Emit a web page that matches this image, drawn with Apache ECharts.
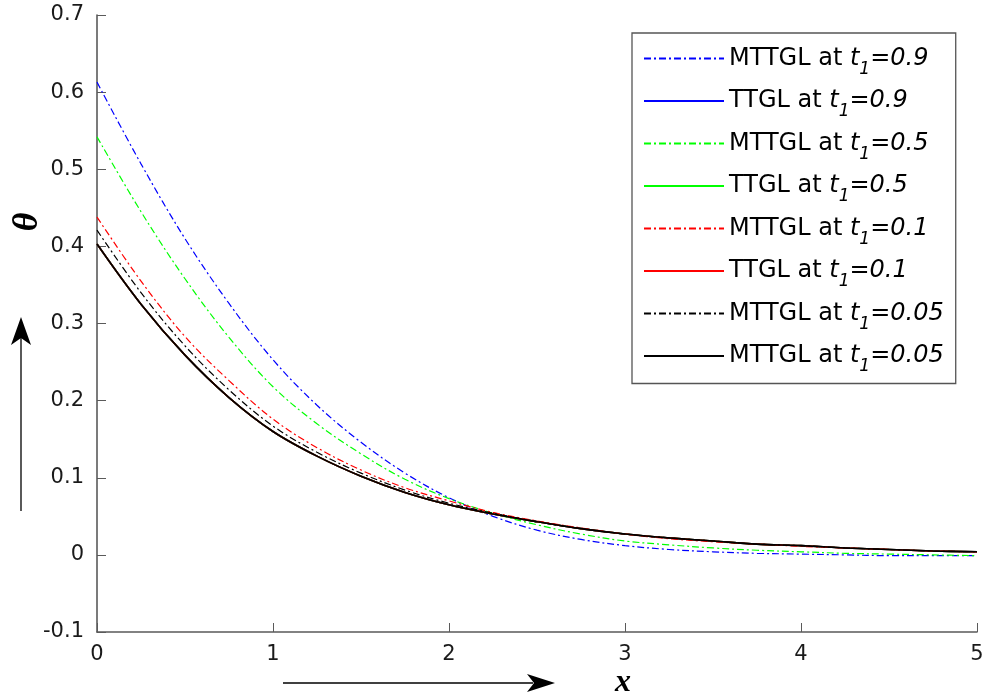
<!DOCTYPE html>
<html>
<head>
<meta charset="utf-8">
<script src="https://cdn.jsdelivr.net/npm/echarts@6/dist/echarts.min.js"></script>
<style>
html,body{margin:0;padding:0;background:#fff;}
#chart{width:989px;height:698px;}
</style>
</head>
<body>
<div id="chart"></div>
<script>
// x positions
const xValues = [0,0.25,0.5,0.75,1,1.25,1.5,1.75,2,2.25,2.5,2.75,3,3.25,3.5,3.75,4,4.25,4.5,4.75,5];
// MTTGL at t1=0.9 (blue dash-dot)
const mttgl09 = [0.613,0.507,0.410,0.326,0.253,0.194,0.146,0.106,0.074,0.050,0.032,0.020,0.012,0.007,0.004,0.002,0.001,0.000,-0.001,-0.001,-0.001];
// MTTGL at t1=0.5 (green dash-dot)
const mttgl05 = [0.542,0.445,0.358,0.282,0.218,0.170,0.131,0.098,0.073,0.054,0.039,0.027,0.018,0.013,0.009,0.006,0.004,0.002,0.001,0.000,-0.001];
// MTTGL at t1=0.1 (red dash-dot)
const mttgl01 = [0.438,0.355,0.283,0.226,0.176,0.139,0.110,0.087,0.070,0.055,0.044,0.035,0.027,0.021,0.017,0.014,0.011,0.009,0.007,0.005,0.004];
// MTTGL at t1=0.05 (black dash-dot)
const mttgl005 = [0.421,0.340,0.271,0.214,0.167,0.133,0.106,0.084,0.067,0.054,0.043,0.034,0.027,0.022,0.018,0.014,0.012,0.009,0.007,0.005,0.004];
// TTGL (solid curves, coincide)
const ttgl = [0.403,0.325,0.259,0.204,0.160,0.128,0.102,0.081,0.065,0.053,0.043,0.034,0.027,0.022,0.018,0.014,0.012,0.009,0.007,0.005,0.004];

const xTicks = [0,1,2,3,4,5];
const yTicks = [-0.1,0,0.1,0.2,0.3,0.4,0.5,0.6,0.7];

const legendLabels = ['MTTGL at','TTGL at','MTTGL at','TTGL at','MTTGL at','TTGL at','MTTGL at','MTTGL at'];
const legendT1 = ['0.9','0.9','0.5','0.5','0.1','0.1','0.05','0.05'];

const seriesDefs = [
  {data:mttgl09, color:'#0000ff', dash:true},
  {data:ttgl, color:'#0000ff', dash:false},
  {data:mttgl05, color:'#00ff00', dash:true},
  {data:ttgl, color:'#00ff00', dash:false},
  {data:mttgl01, color:'#ff0000', dash:true},
  {data:ttgl, color:'#ff0000', dash:false},
  {data:mttgl005, color:'#000000', dash:true},
  {data:ttgl, color:'#000000', dash:false}
];
const names = seriesDefs.map((s,i)=>'s'+i);

const chart = echarts.init(document.getElementById('chart'), null, {renderer:'canvas'});
const font = 'DejaVu Sans, Verdana, sans-serif';
const serif = 'Liberation Serif, Times New Roman, serif';

const option = {
  animation:false,
  backgroundColor:'#fff',
  grid:{left:97,right:12,top:15,bottom:66,containLabel:false},
  xAxis:{
    type:'value',min:xTicks[0],max:xTicks[xTicks.length-1],interval:1,
    axisLine:{show:true,onZero:false,lineStyle:{color:'#5a5a5a',width:1.6}},
    axisTick:{show:true,inside:true,length:9,lineStyle:{color:'#5a5a5a',width:1}},
    axisLabel:{color:'#1a1a1a',fontSize:21,fontFamily:font,margin:12},
    splitLine:{show:false}
  },
  yAxis:{
    type:'value',min:yTicks[0],max:yTicks[yTicks.length-1],interval:0.1,
    axisLine:{show:true,onZero:false,lineStyle:{color:'#5a5a5a',width:1.6}},
    axisTick:{show:true,inside:true,length:9,lineStyle:{color:'#5a5a5a',width:1}},
    axisLabel:{color:'#1a1a1a',fontSize:21,fontFamily:font,margin:13,
      formatter:function(v){return (Math.round(v*10)/10).toString();}},
    splitLine:{show:false}
  },
  legend:{
    show:true,
    orient:'vertical',left:632,top:33,
    backgroundColor:'#fff',borderColor:'#555',borderWidth:1.3,
    padding:[6,12,8,11],
    itemWidth:80,itemHeight:2,itemGap:3.5,
    itemStyle:{opacity:0},
    formatter:function(name){
      const i = names.indexOf(name);
      return '{m|'+legendLabels[i]+' }{it|t}{sub|1}{it|='+legendT1[i]+'}';
    },
    textStyle:{fontFamily:font,fontSize:24,color:'#000',lineHeight:28,
      rich:{
        m:{fontFamily:font,fontSize:24,color:'#000',lineHeight:28},
        it:{fontFamily:font,fontSize:24,fontStyle:'italic',color:'#000',lineHeight:28},
        sub:{fontFamily:font,fontSize:17,fontStyle:'italic',color:'#000',lineHeight:18,padding:[22,0,0,0]}
      }
    },
    data:names
  },
  series:seriesDefs.map((s,i)=>({
    name:names[i],type:'line',smooth:0.35,showSymbol:false,symbol:'none',
    data:xValues.map((x,j)=>[x,s.data[j]]),
    lineStyle:{color:s.color,width:s.dash?1.2:1.6,type:s.dash?[7,3,2,3]:'solid'},
    itemStyle:{color:s.color}
  })),
  graphic:[
    {type:'text',x:28,y:222,rotation:Math.PI/2,
      style:{text:'θ',font:'bold italic 36px '+serif,fill:'#000',align:'center',verticalAlign:'middle'}},
    {type:'text',x:623,y:683,
      style:{text:'x',font:'bold italic 32px '+serif,fill:'#000',align:'center',verticalAlign:'middle'}},
    {type:'line',shape:{x1:21,y1:511,x2:21,y2:335},style:{stroke:'#000',lineWidth:1.3}},
    {type:'polygon',shape:{points:[[21,317],[11,345],[21,338],[31,345]]},style:{fill:'#000'}},
    {type:'line',shape:{x1:283,y1:683,x2:533,y2:683},style:{stroke:'#000',lineWidth:1.3}},
    {type:'polygon',shape:{points:[[555,683],[527,674],[534,683],[527,692]]},style:{fill:'#000'}}
  ]
};
chart.setOption(option);
</script>
</body>
</html>
